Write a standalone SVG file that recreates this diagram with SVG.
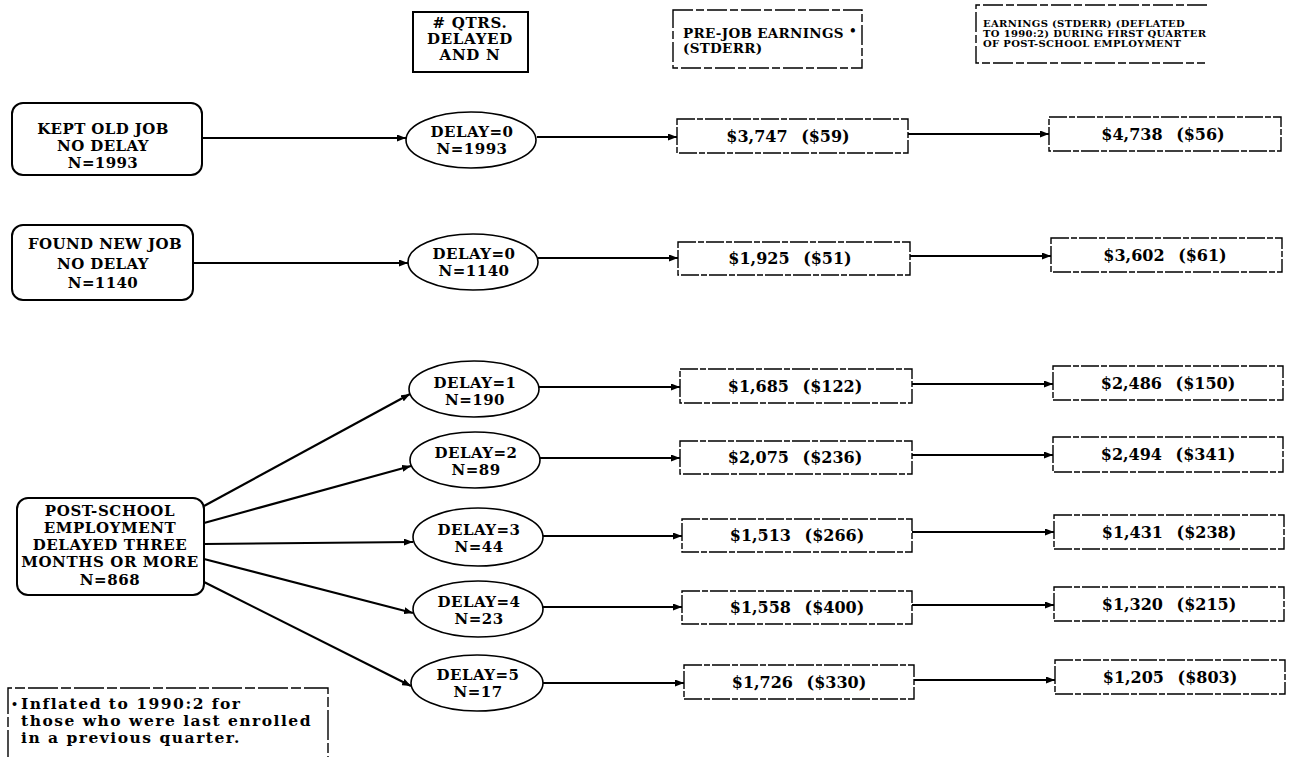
<svg xmlns="http://www.w3.org/2000/svg" width="1303" height="757" viewBox="0 0 1303 757">
<defs>
<marker id="ah" markerUnits="userSpaceOnUse" markerWidth="9" markerHeight="7" refX="9" refY="3.5" orient="auto">
<path d="M0,0 L9,3.5 L0,7 z" fill="#000"/>
</marker>
<style>
text{font-family:"DejaVu Serif","Liberation Serif",serif;font-weight:bold;fill:#000}
.n{font-size:15px;text-anchor:middle;letter-spacing:0.4px}
.e{font-size:15px;text-anchor:middle;letter-spacing:0.5px}
.v{font-size:16px;text-anchor:middle;word-spacing:8px}
.rr{fill:#fff;stroke:#000;stroke-width:2}
.el{fill:#fff;stroke:#000;stroke-width:1.6}
.bx{fill:#fff;stroke:#000;stroke-width:1.4;stroke-dasharray:18 2 6 2}
.c line{stroke:#000;stroke-width:2.2;marker-end:url(#ah)}
.fn{font-size:15.5px;letter-spacing:1.5px}
.hs{font-size:10px;letter-spacing:0.35px}
</style>
</defs>
<rect width="1303" height="757" fill="#fff"/>

<g id="hdr-qtrs">
<rect x="413" y="12" width="115" height="60" fill="#fff" stroke="#000" stroke-width="2"/>
<text class="n" style="font-size:15px;letter-spacing:0.7px"><tspan x="470" y="28"># QTRS.</tspan><tspan x="470" y="44">DELAYED</tspan><tspan x="470" y="60">AND N</tspan></text>
</g>
<g id="hdr-prejob">
<rect x="673" y="10" width="189" height="58" fill="#fff" stroke="#000" stroke-width="1.4" stroke-dasharray="20 3 8 3"/>
<text x="683" y="38" style="font-size:13.5px;letter-spacing:0.3px">PRE-JOB EARNINGS</text>
<text x="849" y="35" style="font-size:12px">•</text>
<text x="683" y="53" style="font-size:13.5px;letter-spacing:0.3px">(STDERR)</text>
</g>
<g id="hdr-post">
<path d="M1207,5 L976,5 L976,63 L1205,63" fill="none" stroke="#000" stroke-width="1.4" stroke-dasharray="20 3 8 3"/>
<text class="hs" x="983" y="27">EARNINGS (STDERR) (DEFLATED</text>
<text class="hs" x="983" y="37">TO 1990:2) DURING FIRST QUARTER</text>
<text class="hs" x="983" y="47">OF POST-SCHOOL EMPLOYMENT</text>
</g>

<g id="connectors" class="c">
<line x1="202" y1="138" x2="406" y2="138"/>
<line x1="537" y1="137" x2="677" y2="137"/>
<line x1="908" y1="134" x2="1049" y2="134"/>
<line x1="193" y1="263" x2="408" y2="263"/>
<line x1="538" y1="258" x2="678" y2="258"/>
<line x1="910" y1="256" x2="1051" y2="256"/>
<line x1="204" y1="506" x2="410" y2="394"/>
<line x1="539" y1="387" x2="680" y2="387"/>
<line x1="912" y1="384" x2="1053" y2="384"/>
<line x1="204" y1="523" x2="411" y2="466"/>
<line x1="540" y1="458" x2="680" y2="458"/>
<line x1="912" y1="455" x2="1053" y2="455"/>
<line x1="204" y1="544" x2="413" y2="542"/>
<line x1="543" y1="536" x2="682" y2="536"/>
<line x1="912" y1="532" x2="1054" y2="532"/>
<line x1="204" y1="559" x2="413" y2="613"/>
<line x1="543" y1="607" x2="682" y2="607"/>
<line x1="912" y1="605" x2="1054" y2="605"/>
<line x1="204" y1="582" x2="411" y2="686"/>
<line x1="543" y1="683" x2="684" y2="683"/>
<line x1="914" y1="680" x2="1055" y2="680"/>
</g>

<g id="node-kept">
<rect class="rr" x="12" y="103" width="190" height="72" rx="11"/>
<text class="n"><tspan x="103" y="134">KEPT OLD JOB</tspan><tspan x="103" y="151">NO DELAY</tspan><tspan x="103" y="168">N=1993</tspan></text>
</g>
<g id="node-found">
<rect class="rr" x="12" y="225" width="181" height="75" rx="11"/>
<text class="n"><tspan x="105" y="249">FOUND NEW JOB</tspan><tspan x="103" y="269">NO DELAY</tspan><tspan x="103" y="288">N=1140</tspan></text>
</g>
<g id="node-post">
<rect class="rr" x="17" y="498" width="187" height="97" rx="11"/>
<text class="n" style="letter-spacing:0.6px"><tspan x="110" y="516">POST-SCHOOL</tspan><tspan x="110" y="533">EMPLOYMENT</tspan><tspan x="110" y="550">DELAYED THREE</tspan><tspan x="110" y="567">MONTHS OR MORE</tspan><tspan x="110" y="585">N=868</tspan></text>
</g>

<g id="ell-0a"><ellipse class="el" cx="471" cy="140" rx="65" ry="28"/><text class="e"><tspan x="472" y="137">DELAY=0</tspan><tspan x="472" y="154">N=1993</tspan></text></g>
<g id="ell-0b"><ellipse class="el" cx="473" cy="262" rx="65" ry="28"/><text class="e"><tspan x="474" y="259">DELAY=0</tspan><tspan x="474" y="276">N=1140</tspan></text></g>
<g id="ell-1"><ellipse class="el" cx="474" cy="389" rx="65" ry="28"/><text class="e"><tspan x="475" y="388">DELAY=1</tspan><tspan x="475" y="405">N=190</tspan></text></g>
<g id="ell-2"><ellipse class="el" cx="475" cy="460" rx="65" ry="28"/><text class="e"><tspan x="476" y="458">DELAY=2</tspan><tspan x="476" y="475">N=89</tspan></text></g>
<g id="ell-3"><ellipse class="el" cx="478" cy="537" rx="65" ry="29"/><text class="e"><tspan x="479" y="535">DELAY=3</tspan><tspan x="479" y="552">N=44</tspan></text></g>
<g id="ell-4"><ellipse class="el" cx="478" cy="609" rx="65" ry="28"/><text class="e"><tspan x="479" y="607">DELAY=4</tspan><tspan x="479" y="624">N=23</tspan></text></g>
<g id="ell-5"><ellipse class="el" cx="477" cy="683" rx="66" ry="28"/><text class="e"><tspan x="478" y="680">DELAY=5</tspan><tspan x="478" y="697">N=17</tspan></text></g>

<g id="pre-1"><rect class="bx" x="677" y="119" width="231" height="34"/><text class="v" x="788" y="142">$3,747 ($59)</text></g>
<g id="pre-2"><rect class="bx" x="678" y="242" width="232" height="33"/><text class="v" x="790" y="264">$1,925 ($51)</text></g>
<g id="pre-3"><rect class="bx" x="680" y="369" width="232" height="34"/><text class="v" x="795" y="392">$1,685 ($122)</text></g>
<g id="pre-4"><rect class="bx" x="680" y="441" width="232" height="33"/><text class="v" x="795" y="463">$2,075 ($236)</text></g>
<g id="pre-5"><rect class="bx" x="682" y="519" width="230" height="33"/><text class="v" x="797" y="541">$1,513 ($266)</text></g>
<g id="pre-6"><rect class="bx" x="682" y="591" width="230" height="33"/><text class="v" x="797" y="613">$1,558 ($400)</text></g>
<g id="pre-7"><rect class="bx" x="684" y="665" width="230" height="34"/><text class="v" x="799" y="688">$1,726 ($330)</text></g>

<g id="post-1"><rect class="bx" x="1049" y="117" width="232" height="34"/><text class="v" x="1163" y="140">$4,738 ($56)</text></g>
<g id="post-2"><rect class="bx" x="1051" y="238" width="231" height="34"/><text class="v" x="1165" y="261">$3,602 ($61)</text></g>
<g id="post-3"><rect class="bx" x="1053" y="366" width="230" height="34"/><text class="v" x="1168" y="389">$2,486 ($150)</text></g>
<g id="post-4"><rect class="bx" x="1053" y="437" width="230" height="35"/><text class="v" x="1168" y="460">$2,494 ($341)</text></g>
<g id="post-5"><rect class="bx" x="1054" y="515" width="230" height="34"/><text class="v" x="1169" y="538">$1,431 ($238)</text></g>
<g id="post-6"><rect class="bx" x="1054" y="587" width="230" height="34"/><text class="v" x="1169" y="610">$1,320 ($215)</text></g>
<g id="post-7"><rect class="bx" x="1055" y="660" width="230" height="34"/><text class="v" x="1170" y="683">$1,205 ($803)</text></g>

<g id="footnote">
<path d="M8,760 L8,688 L328,688 L328,760" fill="none" stroke="#000" stroke-width="1.4" stroke-dasharray="30 3 10 3"/>
<text x="11" y="708" style="font-size:11px">•</text>
<text class="fn" x="21" y="709">Inflated to 1990:2 for</text>
<text class="fn" x="21" y="726">those who were last enrolled</text>
<text class="fn" x="21" y="743">in a previous quarter.</text>
</g>
</svg>
